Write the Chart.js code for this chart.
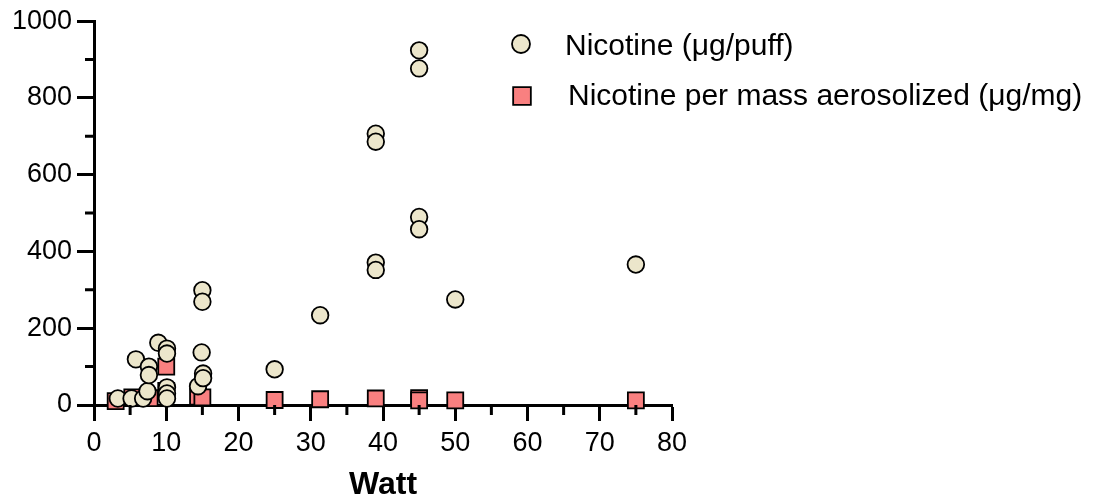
<!DOCTYPE html>
<html lang="en">
<head>
<meta charset="UTF-8">
<title>Nicotine vs Watt</title>
<script src="https://cdn.jsdelivr.net/npm/chart.js@4.4.0/dist/chart.umd.min.js"></script>
<style>
  html, body { margin: 0; padding: 0; background: #fff; }
  #wrap { width: 1110px; height: 501px; }
</style>
</head>
<body>
<div id="wrap"><canvas id="chart" width="1110" height="501"></canvas></div>
<script>
// Nicotine (ug/puff) per device
const puffWatt     = [3.3, 5.2, 5.8, 6.8, 7.4, 7.6, 7.6, 8.9, 10.1, 10.1, 10.1, 10.1, 10.1, 14.4, 14.9, 15.1, 15.1, 15, 15, 25, 31.3, 39, 39, 39, 39, 45, 45, 45, 45, 50, 75];
const puffNicotine = [17, 17, 119, 17, 36, 100, 78, 162, 147, 134, 46, 30, 17, 49, 137, 82, 70, 299, 269, 93, 234, 707, 686, 371, 352, 924, 877, 490, 458, 275, 366];

// Nicotine per mass aerosolized (ug/mg)
const massWatt     = [3, 5.3, 7.7, 10, 10, 14.4, 15, 25, 31.3, 39, 45, 45, 50, 75];
const massNicotine = [10, 20, 18, 100, 37, 22, 20, 13, 15, 17, 18, 12, 12, 12];

const xTicks = [0, 10, 20, 30, 40, 50, 60, 70, 80];
const xMinor = [5, 15, 25, 35, 45, 55, 65, 75];
const yTicks = [0, 200, 400, 600, 800, 1000];
const yMinor = [100, 300, 500, 700, 900];

const seriesLabels = ['Nicotine (μg/puff)', 'Nicotine per mass aerosolized (μg/mg)'];
const FONT = "'Liberation Sans', Arial, sans-serif";

const toPoints = (xs, ys) => xs.map((x, i) => ({ x: x, y: ys[i] }));

// shorter in-between ticks, like the original plot
const minorTicks = {
    id: 'minorTicks',
    afterDraw(chart) {
        const { ctx, chartArea, scales } = chart;
        ctx.save();
        ctx.strokeStyle = '#000';
        ctx.lineWidth = 3;
        ctx.beginPath();
        xMinor.forEach(v => {
            const px = scales.x.getPixelForValue(v);
            ctx.moveTo(px, chartArea.bottom);
            ctx.lineTo(px, chartArea.bottom + 10);
        });
        yMinor.forEach(v => {
            const py = scales.y.getPixelForValue(v);
            ctx.moveTo(chartArea.left, py);
            ctx.lineTo(chartArea.left - 9, py);
        });
        ctx.stroke();
        ctx.restore();
    }
};

// legend sits partly over the plot, so draw it by hand
const floatLegend = {
    id: 'floatLegend',
    afterDraw(chart) {
        const ctx = chart.ctx;
        const spots = [
            { mx: 521, my: 44, tx: 565, ty: 55, r: 9 },
            { mx: 522, my: 96, tx: 568, ty: 105, r: 12.5 }
        ];
        ctx.save();
        chart.data.datasets.forEach((ds, i) => {
            const s = spots[i];
            ctx.fillStyle = ds.backgroundColor;
            ctx.strokeStyle = ds.borderColor;
            ctx.lineWidth = ds.borderWidth;
            Chart.helpers.drawPoint(ctx, { pointStyle: ds.pointStyle, radius: s.r, rotation: 0, borderWidth: ds.borderWidth }, s.mx, s.my);
            ctx.fillStyle = '#000';
            ctx.font = '30px ' + FONT;
            ctx.textBaseline = 'alphabetic';
            ctx.textAlign = 'left';
            ctx.fillText(ds.label, s.tx, s.ty);
        });
        ctx.restore();
    }
};

new Chart(document.getElementById('chart'), {
    type: 'scatter',
    data: {
        datasets: [
            {
                label: seriesLabels[0],
                data: toPoints(puffWatt, puffNicotine),
                pointStyle: 'circle',
                pointRadius: 8.3,
                backgroundColor: '#ECE6CB',
                borderColor: '#000',
                borderWidth: 1.8,
                clip: false
            },
            {
                label: seriesLabels[1],
                data: toPoints(massWatt, massNicotine),
                pointStyle: 'rect',
                pointRadius: 11.3,
                backgroundColor: '#F98080',
                borderColor: '#000',
                borderWidth: 1.8,
                clip: false
            }
        ]
    },
    options: {
        responsive: false,
        animation: false,
        layout: { padding: { top: 21, right: 438, left: 0, bottom: 0 } },
        plugins: {
            legend: { display: false },
            tooltip: { enabled: false }
        },
        scales: {
            x: {
                type: 'linear',
                min: 0,
                max: 80,
                afterBuildTicks: s => { s.ticks = xTicks.map(v => ({ value: v })); },
                afterFit: s => { s.height = 96; },
                border: { display: true, color: '#000', width: 3 },
                grid: { drawOnChartArea: false, drawTicks: true, tickLength: 16, tickWidth: 3, tickColor: '#000' },
                ticks: { color: '#000', padding: 6, font: { family: FONT, size: 27 }, maxRotation: 0, callback: v => String(v) },
                title: {
                    display: true,
                    text: 'Watt',
                    color: '#000',
                    padding: { top: 0, bottom: 0 },
                    font: { family: FONT, size: 32, weight: 'bold', lineHeight: 1 }
                }
            },
            y: {
                type: 'linear',
                min: 0,
                max: 1000,
                afterBuildTicks: s => { s.ticks = yTicks.map(v => ({ value: v })); },
                afterFit: s => { s.width = 94; },
                border: { display: true, color: '#000', width: 3 },
                grid: { drawOnChartArea: false, drawTicks: true, tickLength: 17, tickWidth: 3, tickColor: '#000' },
                ticks: { color: '#000', padding: 5, font: { family: FONT, size: 27 }, callback: v => String(v) }
            }
        }
    },
    plugins: [minorTicks, floatLegend]
});
</script>
</body>
</html>
